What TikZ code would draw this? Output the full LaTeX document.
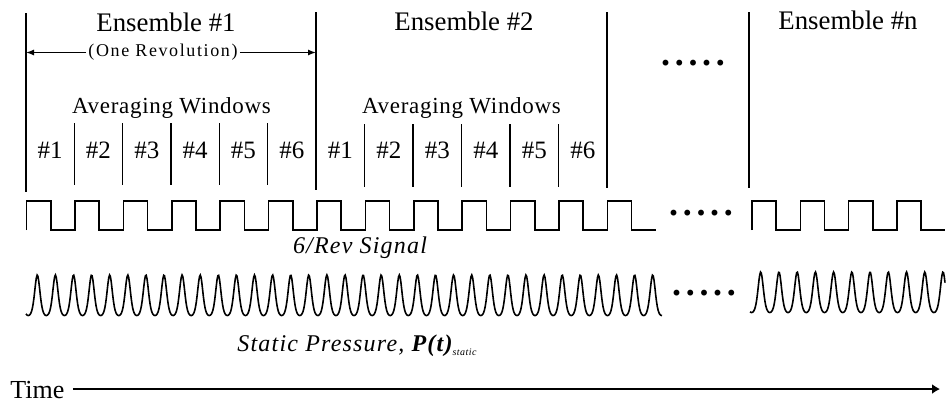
\documentclass[tikz,border=0pt]{standalone}
\usepackage{fontspec}
\setmainfont{Liberation Serif}
\usetikzlibrary{arrows.meta}

\begin{document}
\begin{tikzpicture}[
  x=0.5pt, y=-0.5pt,
  every node/.style={inner sep=0pt},
  bound/.style={line width=0.8pt},
  sig/.style={line width=0.8pt, line join=miter},
  title/.style={anchor=base, font=\fontsize{13.4}{16}\selectfont},
  win/.style={anchor=base, font=\fontsize{12.5}{15}\selectfont},
  avg/.style={anchor=base, font=\fontsize{11.5}{14}\selectfont\addfontfeature{LetterSpace=3}},
  rev/.style={inner xsep=1pt, font=\fontsize{9}{11}\selectfont\addfontfeature{LetterSpace=9}},
  lbl/.style={anchor=base, font=\fontsize{12}{14}\selectfont\itshape\addfontfeature{LetterSpace=5}},
  more/.style={anchor=base, font=\fontsize{18}{20}\selectfont\bfseries\addfontfeature{LetterSpace=13}},
  tip/.style={-{Latex[length=4pt,width=3pt]}, line width=0.6pt}
]
\useasboundingbox (0,0) rectangle (946,403);

% ensemble boundaries
\foreach \n/\x/\yt/\yb in {1/26/13/192, 2/316/12/190, 3/607/12/188, 4/749/12/188} {
  \coordinate (b\n) at (\x,\yt);
  \coordinate (c\n) at (\x,\yb);
  \draw[bound] (b\n) -- (c\n);
}

% averaging window dividers
\foreach \k in {1,...,5} {
  \coordinate (wa\k) at ({26+48.33*\k},123);
  \coordinate (va\k) at ({26+48.33*\k},185);
  \coordinate (wb\k) at ({316+48.5*\k},124);
  \coordinate (vb\k) at ({316+48.5*\k},187);
  \draw[bound] (wa\k) -- (va\k);
  \draw[bound] (wb\k) -- (vb\k);
}
\foreach \k in {1,...,6} {
  \node[win] (na\k) at ({26+48.33*(\k-0.5)},158) {\#\k};
  \node[win] (nb\k) at ({316+48.5*(\k-0.5)},158) {\#\k};
}

\node[title] (ens1) at (166,31) {Ensemble \#1};
\node[title] (ens2) at (464,30) {Ensemble \#2};
\node[title] (ensn) at (848,29) {Ensemble \#n};
\node[rev] (rev) at (163,52.5) {(One Revolution)};
\draw[tip] (rev.west) -- (rev.west -| b1);
\draw[tip] (rev.east) -- (rev.east -| b2);
\node[avg] (avg1) at (171.5,113) {Averaging Windows};
\node[avg] (avg2) at (461.5,113) {Averaging Windows};
\node[more] (gap1) at (693,65) {.....};

% 6/rev signal
\draw[sig] (26.5,230) \foreach \i in {1,...,13} { -- ++(0,-29) -- ++(24.2,0) -- ++(0,29) -- ++(24.2,0) };
\draw[sig] (752,230) \foreach \i in {1,...,4} { -- ++(0,-29) -- ++(24.15,0) -- ++(0,29) -- ++(24.15,0) };
\node[more] (gap2) at (701,215) {.....};
\node[lbl] (revsig) at (360,253) {6/Rev Signal};

% static pressure
\draw[sig] plot[domain=26:662, samples=800]
  (\x, {315.5-40.5*(exp(1.2*(cos((\x-37.3)/18.1*360)-1))-0.0907)/0.9093});
\draw[sig] plot[domain=750:945, samples=260]
  (\x, {312.5-40.5*(exp(1.2*(cos((\x-760.7)/18.23*360)-1))-0.0907)/0.9093});
\node[more] (gap3) at (704,295) {.....};
\node[lbl, anchor=base west] (pstat) at (237,351.5)
  {Static Pressure, \textbf{P(t)}\raisebox{-2pt}{\fontsize{5}{6}\selectfont static}};

% time axis
\node[anchor=base west, inner xsep=4pt, font=\fontsize{13}{15}\selectfont] (time) at (2,398) {Time};
\coordinate (tend) at (940,389);
\draw[-{Latex[length=4pt,width=5pt]}, line width=0.7pt] (time.east |- tend) -- (tend);
\end{tikzpicture}
\end{document}
